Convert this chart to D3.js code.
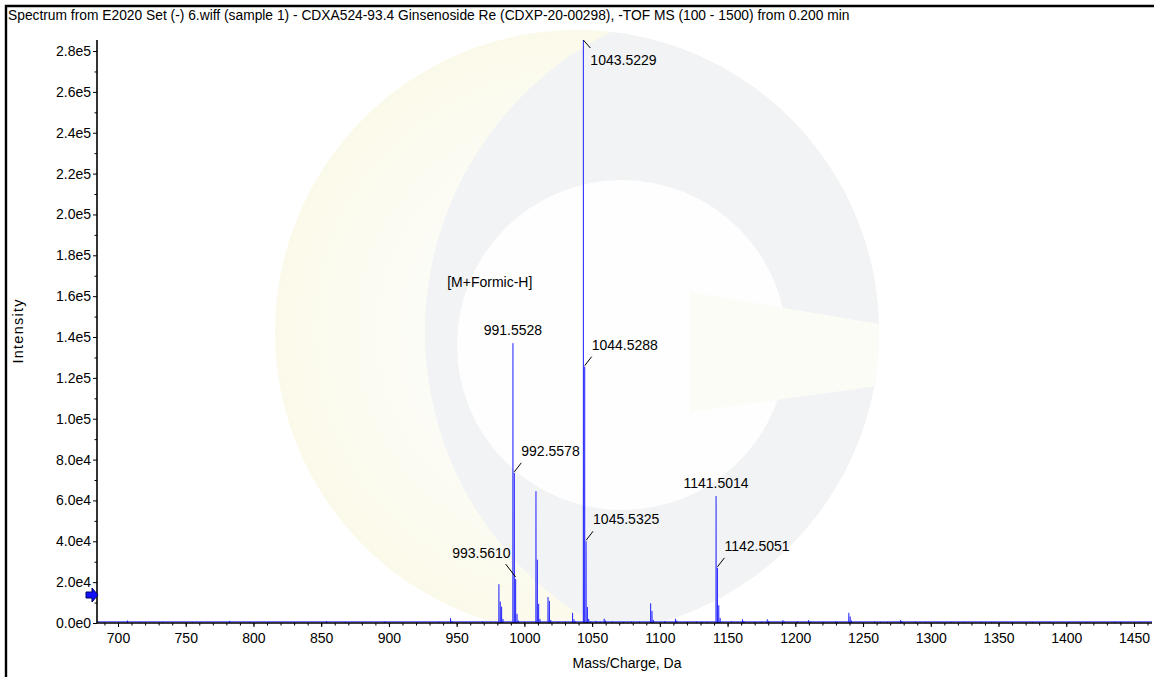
<!DOCTYPE html>
<html><head><meta charset="utf-8">
<script src="https://cdn.jsdelivr.net/npm/d3@7/dist/d3.min.js"></script>
<style>
html,body{margin:0;padding:0;background:#fff;}
svg{display:block;font-family:"Liberation Sans",Arial,sans-serif;}
</style>
</head><body>
<svg id="chart" width="1154" height="677"></svg>
<script>
// ---------------- data ----------------
const titleText = "Spectrum from E2020 Set (-) 6.wiff (sample 1) - CDXA524-93.4 Ginsenoside Re (CDXP-20-00298), -TOF MS (100 - 1500) from 0.200 min";
const xLabel = "Mass/Charge, Da";
const yLabel = "Intensity";
const xTickValues = [700,750,800,850,900,950,1000,1050,1100,1150,1200,1250,1300,1350,1400,1450];
const yTickValues = [0,2e4,4e4,6e4,8e4,1e5,1.2e5,1.4e5,1.6e5,1.8e5,2.0e5,2.2e5,2.4e5,2.6e5,2.8e5];
const xDomain = [684.5, 1463.3];
const yDomain = [0, 285400];

// centroid peaks (m/z, intensity)
const peakMz = [
  707,716,733,755,782.5,797,812,830,854,868,897,921,937,
  945.5,946.5,957,969,975,981.2,982.2,983.2,984.2,
  991.55,992.56,993.56,994.56,995.5,1000,
  1008.55,1009.55,1010.55,1011.5,1017.45,1018.45,1019.5,1025,1030,
  1035.6,1036.6,1037.6,1043.52,1044.53,1045.53,1046.5,1047.5,1049,1053,1056,
  1058.9,1059.9,1065,1073,1079,1085,1093.2,1094.2,1095.2,1103.7,1111.5,1112.5,
  1120,1127,1131,1135,1141.5,1142.5,1143.5,1144.5,1153,1161,1162,1170,1175,
  1179.3,1180.3,1190.8,1191.8,1201.5,1209.8,1211,1221,1229.5,1231,
  1239.5,1240.5,1241.5,1249,1258.5,1263,1268,1277.7,1278.7,1288.7,1296,
  1305,1315,1325,1337,1345,1360,1375,1388,1402,1415,1436,1440,1455
];
const peakIntensity = [
  1200,500,400,400,1100,500,400,400,900,500,700,400,500,
  2400,1000,400,700,400,19000,10500,8000,2000,
  137000,73500,21500,4500,1200,500,
  64500,31000,9400,2000,12700,10800,1500,600,600,
  5000,1800,800,285400,125500,40000,7800,2000,800,1000,600,
  2100,1200,600,500,700,600,9600,5900,1500,900,2100,1200,
  500,600,600,500,62200,27000,8700,2500,800,1800,1000,500,600,
  1800,1000,1400,700,800,1400,600,500,700,500,
  5000,3200,1200,400,700,500,400,1400,900,600,400,
  400,500,400,600,400,400,500,400,500,400,600,500,400
];
const baselineLevel = 600;
const thresholdLevel = 13700;

// annotations
const annMz    = [1043.5229, 1044.5288, 991.5528, 992.5578, 993.5610, 1045.5325, 1141.5014, 1142.5051];
const annInt   = [285400, 125500, 137000, 73500, 21500, 40000, 62200, 27000];
const annText  = ["1043.5229","1044.5288","991.5528","992.5578","993.5610","1045.5325","1141.5014","1142.5051"];
const annStyle = ["below","leader","above","leader","left","leader","above","leader"];
const adductText = "[M+Formic-H]";
const adductMz = 943;
const adductInt = 164500;

// ---------------- layout ----------------
const svg = d3.select("#chart");
const W = 1154, H = 677;
const plot = {left: 97, right: 1152, top: 40, bottom: 623};

const x = d3.scaleLinear().domain(xDomain).range([plot.left, plot.right]);
const y = d3.scaleLinear().domain(yDomain).range([plot.bottom, plot.top]);

svg.append("rect").attr("x",0).attr("y",0).attr("width",W).attr("height",H).attr("fill","#fff");

// watermark logo (faint)
const defs = svg.append("defs");
defs.append("clipPath").attr("id","wmclip").append("circle").attr("cx",760).attr("cy",332).attr("r",335);
defs.append("clipPath").attr("id","bigclip").append("circle").attr("cx",577).attr("cy",332).attr("r",302);
defs.append("clipPath").attr("id","plotclip").append("rect")
  .attr("x",plot.left).attr("y",28).attr("width",plot.right-plot.left).attr("height",plot.bottom-28);
const rg = defs.append("radialGradient").attr("id","creamgrad").attr("cx","50%").attr("cy","50%").attr("r","50%");
rg.append("stop").attr("offset","55%").attr("stop-color","#fcfcf6");
rg.append("stop").attr("offset","100%").attr("stop-color","#fbfaea");
const wmg = svg.append("g").attr("clip-path","url(#plotclip)");
wmg.append("circle").attr("cx",577).attr("cy",332).attr("r",302).attr("fill","url(#creamgrad)");
wmg.append("circle").attr("cx",577).attr("cy",332).attr("r",302).attr("fill","#f1f3f5").attr("clip-path","url(#wmclip)");
const inner = wmg.append("g").attr("clip-path","url(#bigclip)");
inner.append("circle").attr("cx",622).attr("cy",345).attr("r",165).attr("fill","#fefefe");
inner.append("path").attr("d","M690,292 L885,325 L885,385 L690,412 Z").attr("fill","#fcfcf7");

// title
svg.append("text").attr("x",8).attr("y",20).attr("font-size",13.8).attr("fill","#000").text(titleText);

// border
svg.append("path").attr("d",`M6,${H} V6 H${W}`).attr("fill","none").attr("stroke","#000").attr("stroke-width",2.4);

// spectrum
const sg = svg.append("g");
sg.append("line")
  .attr("x1",x(xDomain[0])).attr("x2",x(xDomain[1]))
  .attr("y1",y(baselineLevel)).attr("y2",y(baselineLevel))
  .attr("stroke","#5a5aff").attr("stroke-width",1.3).attr("opacity",0.85);

const hw = 0.35;
const peaks = peakMz.map((m,i)=>({m, v: peakIntensity[i]}));
sg.selectAll("path.pk").data(peaks).join("path").attr("class","pk")
  .attr("d", d => `M${x(d.m-hw)},${y(0)} L${x(d.m)},${y(d.v)} L${x(d.m+hw)},${y(0)} Z`)
  .attr("fill","#7d7dff").attr("fill-opacity",0.75);
sg.selectAll("line.pkl").data(peaks).join("line").attr("class","pkl")
  .attr("x1", d=>x(d.m)).attr("x2", d=>x(d.m))
  .attr("y1", y(0)).attr("y2", d=>y(d.v))
  .attr("stroke","#2020ff").attr("stroke-width",1);

// axes
const fmtY = d => d3.format(".1e")(d).replace("e+","e");
const xAxis = d3.axisBottom(x).tickValues(xTickValues).tickSize(4).tickPadding(6).tickFormat(d3.format("d"));
const xMinor = d3.axisBottom(x).tickValues(d3.range(690,1461,10)).tickSize(2.5).tickFormat("");
const yAxis = d3.axisLeft(y).tickValues(yTickValues).tickSize(4).tickPadding(2).tickFormat(fmtY);
const yMinor = d3.axisLeft(y).tickValues(d3.range(1e4,2.85e5,2e4)).tickSize(2.5).tickFormat("");

function styleAxis(g){
  g.select(".domain").attr("stroke","#000").attr("stroke-width",1.6);
  g.selectAll(".tick line").attr("stroke","#000").attr("stroke-width",1);
  g.selectAll(".tick text").attr("font-size",14).attr("fill","#000").attr("font-family","Liberation Sans, Arial, sans-serif");
}
const gxm = svg.append("g").attr("transform",`translate(0,${plot.bottom})`).call(xMinor);
gxm.select(".domain").remove(); gxm.selectAll("line").attr("stroke","#000");
const gym = svg.append("g").attr("transform",`translate(${plot.left},0)`).call(yMinor);
gym.select(".domain").remove(); gym.selectAll("line").attr("stroke","#000");
const gx = svg.append("g").attr("transform",`translate(0,${plot.bottom})`).call(xAxis).call(styleAxis);
gx.select(".domain").attr("d",`M${plot.left},0H${plot.right}`);
const gy = svg.append("g").attr("transform",`translate(${plot.left},0)`).call(yAxis).call(styleAxis);
gy.select(".domain").attr("d",`M0,${plot.bottom}V${plot.top}`);

// axis labels
svg.append("text").attr("x",(x(700)+x(1450))/2 + 1).attr("y",668).attr("text-anchor","middle")
  .attr("font-size",14).text(xLabel);
svg.append("text").attr("transform",`translate(23,${(plot.top+plot.bottom)/2}) rotate(-90)`)
  .attr("text-anchor","middle").attr("font-size",14.5)
  .attr("textLength",64).attr("lengthAdjust","spacing").text(yLabel);

// threshold arrow marker
const ay = y(thresholdLevel);
svg.append("path")
  .attr("d",`M${plot.left-11},${ay-3} H${plot.left-5} V${ay-7} L${plot.left+1},${ay} L${plot.left-5},${ay+7} V${ay+3} H${plot.left-11} Z`)
  .attr("fill","#1010ff").attr("stroke","#000060").attr("stroke-width",1);

// annotations
const ag = svg.append("g").attr("font-size",14).attr("fill","#000");
annMz.forEach((m,i)=>{
  const px = x(m), py = Math.max(y(annInt[i]), plot.top);
  const s = annStyle[i];
  if (s === "above") {
    ag.append("text").attr("x",px).attr("y",py-8).attr("text-anchor","middle").text(annText[i]);
  } else if (s === "below") {
    ag.append("line").attr("x1",px).attr("y1",py).attr("x2",px+7).attr("y2",py+8).attr("stroke","#000");
    ag.append("text").attr("x",px+7).attr("y",py+25).text(annText[i]);
  } else if (s === "leader") {
    ag.append("line").attr("x1",px).attr("y1",py-1).attr("x2",px+7).attr("y2",py-10).attr("stroke","#000");
    ag.append("text").attr("x",px+7).attr("y",py-17).text(annText[i]);
  } else if (s === "left") {
    ag.append("line").attr("x1",px).attr("y1",py-2).attr("x2",px-10).attr("y2",py-15).attr("stroke","#000");
    ag.append("text").attr("x",px-5).attr("y",py-21).attr("text-anchor","end").text(annText[i]);
  }
});
ag.append("text").attr("x",x(adductMz)).attr("y",y(adductInt)).text(adductText);
</script>
</body></html>
